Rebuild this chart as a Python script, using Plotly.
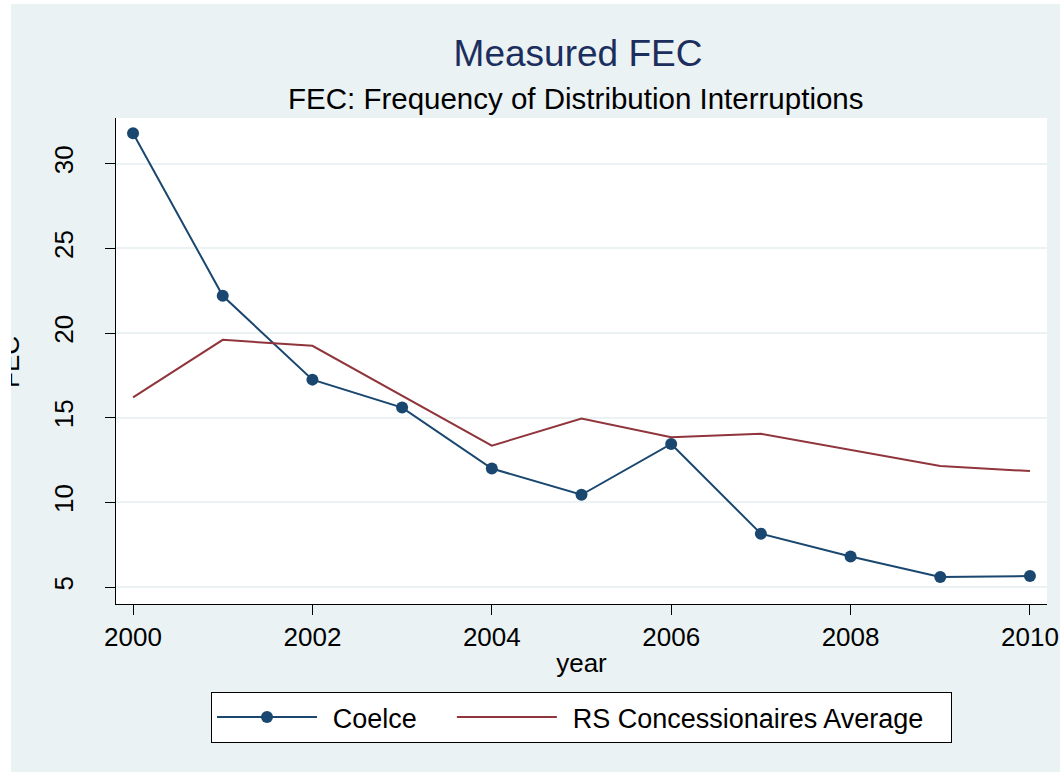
import plotly.graph_objects as go

years = [2000, 2001, 2002, 2003, 2004, 2005, 2006, 2007, 2008, 2009, 2010]
coelce = [31.8, 22.2, 17.25, 15.6, 12.0, 10.45, 13.45, 8.15, 6.8, 5.6, 5.65]
rs_avg = [16.2, 19.6, 19.25, 16.3, 13.35, 14.95, 13.85, 14.05, 13.1, 12.15, 11.85]

x_ticks = [2000, 2002, 2004, 2006, 2008, 2010]
y_ticks = [5, 10, 15, 20, 25, 30]

BG = "#EAF2F3"
NAVY = "#1a476f"
MAROON = "#90353b"
FONT = "Liberation Sans, Arial, sans-serif"

W, H = 1060, 772
L, R, T, B = 116, 13, 118, 168
PW, PH = W - L - R, H - T - B

def px(xp):
    return (xp - L) / PW

def py(yp):
    return (H - B - yp) / PH

TS = "\u2009\u2009"          # small gap between legend key and its label
GAP = "\u00a0" * 4           # gap between legend entries

fig = go.Figure()
fig.add_trace(go.Scatter(x=years, y=coelce, name=TS + "Coelce" + GAP, mode="lines+markers",
                         line=dict(color=NAVY, width=2),
                         marker=dict(color=NAVY, size=12)))
fig.add_trace(go.Scatter(x=years, y=rs_avg, name=TS + "RS Concessionaires Average" + "\u00a0" * 3,
                         mode="lines", line=dict(color=MAROON, width=2)))

fig.update_layout(
    width=W, height=H,
    margin=dict(l=L, r=R, t=T, b=B, pad=0, autoexpand=False),
    paper_bgcolor=BG, plot_bgcolor="white",
    font=dict(family=FONT, size=26, color="black"),
    title=dict(text="Measured FEC", xref="container", x=578 / W, xanchor="center",
               y=1 - 53 / H, yanchor="middle",
               font=dict(size=37, color="#1c2e5e", family=FONT)),
    showlegend=True,
    legend=dict(orientation="h", x=px(211), xanchor="left", y=py(692), yanchor="top",
                bgcolor="white", bordercolor="black", borderwidth=1,
                font=dict(size=27, family=FONT), itemwidth=100,
                tracegroupgap=0),
    xaxis=dict(range=[1999.81, 2010.19], tickvals=x_ticks, showgrid=False, zeroline=False,
               showline=True, linecolor="black", linewidth=1, automargin=False,
               ticks="outside", ticklen=10, tickcolor="black",
               tickfont=dict(size=26),
               title=dict(text="year", font=dict(size=26), standoff=2)),
    yaxis=dict(range=[4.0, 32.7], tickvals=y_ticks, showgrid=True, gridcolor=BG, gridwidth=2,
               zeroline=False, showline=True, linecolor="black", linewidth=1, automargin=False,
               ticks="outside", ticklen=10, tickcolor="black", tickangle=-90,
               ticklabelstandoff=22,
               tickfont=dict(size=26), title=None),
)

fig.add_annotation(text="FEC: Frequency of Distribution Interruptions", xref="paper", yref="paper",
                   x=px(576), y=py(99), xanchor="center", yanchor="middle", showarrow=False,
                   font=dict(size=29.5, color="black"))
fig.add_annotation(text="FEC", xref="paper", yref="paper", x=px(10), y=py(362),
                   xanchor="center", yanchor="middle", showarrow=False, textangle=-90,
                   font=dict(size=26, color="black"))
# white strips at the page edges (outside the chart's background)
fig.add_annotation(text=" ", xref="paper", yref="paper", x=px(0), y=py(0), xanchor="left",
                   yanchor="top", showarrow=False, width=11, height=H, bgcolor="white",
                   borderpad=0, borderwidth=0)
fig.add_annotation(text=" ", xref="paper", yref="paper", x=px(0), y=py(0), xanchor="left",
                   yanchor="top", showarrow=False, width=W, height=4, bgcolor="white",
                   borderpad=0, borderwidth=0)

fig.write_html("out.html", config={"displayModeBar": False},
               post_script="document.body.style.margin='0px';")
